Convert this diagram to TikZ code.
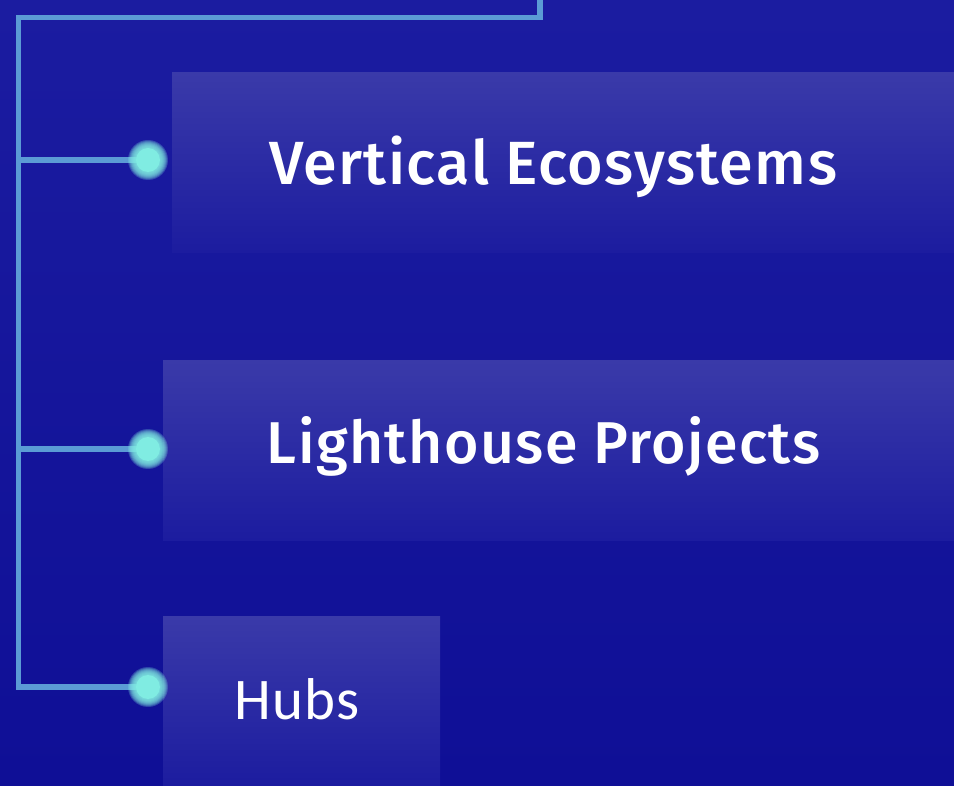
\documentclass[tikz,border=0pt]{standalone}
\usepackage{xcolor}
\usepackage{fontspec}
\setsansfont{Fira Sans Medium}[LetterSpace=2.4]
\newfontfamily\hubsfont{Carlito}[LetterSpace=2]

\definecolor{bgtop}{HTML}{1B1CA0}
\definecolor{bgbottom}{HTML}{0F0F96}
\definecolor{boxtop}{HTML}{3A3AA9}
\definecolor{boxbottom}{HTML}{1C1C9F}
\definecolor{linkblue}{HTML}{5B9BD5}
\definecolor{dotcyan}{HTML}{80ECE2}

\begin{document}
\begin{tikzpicture}[x=1pt, y=-1pt,
    link/.style={draw=linkblue, line width=5.5pt},
    panel/.style={anchor=north west, inner sep=0pt, top color=boxtop,
      bottom color=boxbottom},
    caption/.style={text=white, font=\sffamily, inner sep=0pt},
    glow/.style={circle, inner sep=0pt, minimum size=30pt}]
          % background
          \shade[top color=bgtop, bottom color=bgbottom] (0,0) rectangle (954,786);
          \useasboundingbox (0,0) rectangle (954,786);

          \coordinate (T) at (540,0);
          \coordinate (C) at (18.5,17.5);

          \node[panel, minimum width=782pt, minimum height=180pt] (vert) at (172,72) {};
          \node[panel, minimum width=791pt, minimum height=180pt] (light) at (163,360) {};
          \node[panel, minimum width=277pt, minimum height=170pt] (hubs) at (163,616) {};

          \node[caption] (vertText) at ([xshift=-10pt, yshift=-5pt]vert.center)
            {\fontsize{61}{66}\selectfont Vertical Ecosystems};
          \node[caption] (lightText) at ([xshift=-15pt, yshift=4pt]light.center)
            {\fontsize{59}{66}\selectfont Lighthouse Projects};
          \node[caption] (hubsText) at ([xshift=-5pt, yshift=2pt]hubs.center)
            {\hubsfont\fontsize{59}{66}\selectfont Hubs};

          \node[glow] (d1) at (148,160) {};
          \node[glow] (d2) at (148,449) {};
          \node[glow] (d3) at (148,687) {};

          \draw[link] (T) |- (C) -- (C |- d3.center) -- (d3.center);
          \draw[link] (C |- d1.center) -- (d1.center);
          \draw[link] (C |- d2.center) -- (d2.center);

          % fuzzy dots
          \foreach \d in {d1,d2,d3}{
            \foreach \r in {20,19,...,13}
              \fill[dotcyan, opacity=0.25] (\d) circle (\r pt);
            \fill[dotcyan] (\d) circle (12pt);
          }

          \end{tikzpicture}
\end{document}
